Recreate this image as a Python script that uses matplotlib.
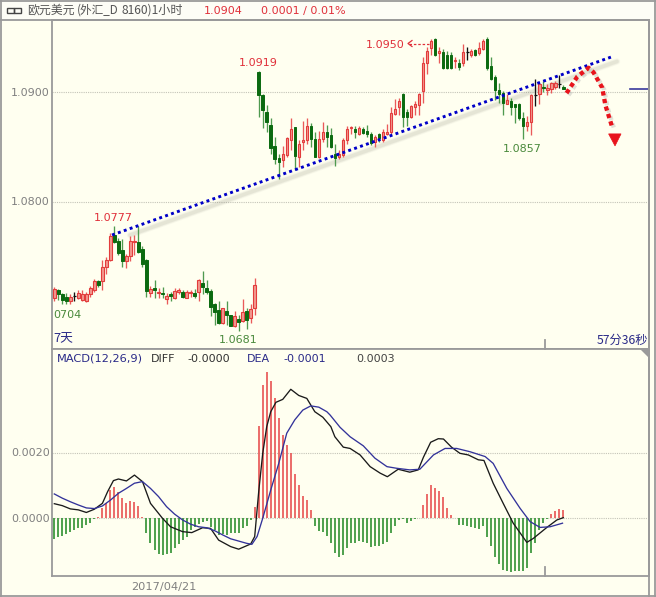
import matplotlib
matplotlib.use("Agg")
import matplotlib.pyplot as plt
import numpy as np
from matplotlib.lines import Line2D
from matplotlib.patches import Polygon, Rectangle
import matplotlib.patheffects as pe

plt.rcParams['font.family'] = ['DejaVu Sans', 'Noto Sans CJK SC']

# candle data, prices in units of 0.0001
falling_candles = {1,2,3,11,15,16,17,21,22,23,25,27,29,32,35,37,38,39,40,41,43,44,46,48,
                   51,52,53,54,55,56,60,64,65,68,69,70,75,77,78,79,81,87,88,95,97,98,99,
                   101,105,108,109,110,111,112,114,115,116,117,122,127}
flat_candles = {5,103,120,126}

body_top = [10721,10720,10716,10714,10714,10715,10717,10716,10716,10722,10728,10728,
            10741,10747,10769,10770,10765,10756,10751,10765,10765,10764,10757,10747,
            10721,10722,10718,10717,10715,10716,10719,10720,10718,10718,10718,10717,
            10729,10726,10722,10719,10707,10702,10704,10701,10697,10696,10694,10700,
            10701,10703,10725,
            10918,10897,10882,10870,10851,10840,10844,10858,10866,10868,10853,10856,
            10869,10869,10857,10857,10864,10864,10861,10844,10844,10856,10866,10868,
            10866,10867,10866,10865,10862,10859,10862,10864,10864,10881,10885,10892,
            10898,10882,10887,10889,10898,10926,10937,10946,10948,10937,10936,10934,
            10934,10929,10926,10936,10936,10937,10938,10940,10946,10948,10924,10914,
            10902,10899,10893,10892,10889,10889,10876,10873,10897,10897,10907,10905,
            10904,10908,10908,10907,10905]
body_bottom = [10713,10716,10711,10710,10710,10715,10713,10711,10710,10716,10720,10725,
               10728,10741,10747,10764,10754,10746,10746,10751,10764,10755,10744,10719,
               10717,10720,10717,10716,10712,10715,10713,10718,10714,10713,10717,10715,
               10718,10723,10718,10705,10700,10690,10690,10697,10687,10687,10691,10692,
               10693,10695,10704,
               10897,10884,10873,10849,10839,10836,10838,10843,10856,10842,10841,10855,
               10856,10857,10841,10841,10857,10859,10850,10840,10841,10843,10856,10867,
               10864,10862,10863,10862,10854,10855,10858,10856,10862,10864,10880,10886,
               10877,10877,10877,10886,10888,10901,10926,10940,10934,10935,10922,10922,
               10922,10928,10923,10926,10936,10934,10934,10935,10939,10922,10912,10902,
               10898,10890,10889,10886,10886,10876,10869,10869,10873,10897,10898,10904,
               10902,10903,10905,10907,10903]
candle_high = [10723,10721,10717,10717,10716,10718,10720,10720,10718,10724,10730,10729,
               10747,10750,10772,10778,10767,10766,10753,10769,10770,10778,10760,10748,
               10724,10729,10722,10723,10717,10718,10722,10722,10720,10720,10720,10721,
               10730,10737,10729,10721,10708,10710,10704,10710,10697,10701,10697,10712,
               10704,10707,10731,
               10919,10898,10888,10876,10859,10844,10851,10859,10876,10868,10856,10874,
               10876,10872,10864,10865,10873,10870,10867,10853,10847,10858,10869,10869,
               10869,10869,10868,10870,10864,10861,10863,10866,10871,10886,10894,10895,
               10899,10885,10888,10892,10899,10932,10941,10948,10949,10941,10939,10937,
               10936,10932,10930,10944,10941,10939,10939,10945,10948,10950,10932,10915,
               10908,10901,10898,10895,10889,10890,10882,10878,10898,10912,10908,10910,
               10907,10909,10910,10915,10906]
candle_low = [10710,10711,10707,10707,10707,10710,10712,10710,10709,10714,10718,10723,
              10720,10735,10746,10763,10752,10741,10740,10746,10752,10754,10741,10714,
              10714,10713,10713,10713,10707,10710,10712,10716,10713,10713,10714,10713,
              10710,10716,10716,10696,10688,10689,10689,10688,10687,10686,10683,10691,
              10685,10690,10697,
              10877,10867,10864,10844,10835,10821,10832,10841,10847,10829,10832,10847,
              10853,10850,10841,10840,10855,10850,10849,10833,10839,10841,10853,10862,
              10858,10861,10862,10859,10852,10850,10855,10855,10861,10862,10879,10879,
              10868,10869,10876,10879,10879,10890,10916,10934,10933,10926,10921,10921,
              10921,10922,10920,10924,10929,10932,10933,10934,10938,10920,10911,10893,
              10890,10879,10889,10879,10872,10875,10857,10865,10861,10887,10889,10900,
              10897,10899,10903,10904,10903]

# MACD histogram, units of 0.0001
macd_hist = [-6.3,-5.6,-5.3,-4.9,-4.1,-3.6,-3.1,-3.1,-2.1,-1.3,-0.1,0.5,3.1,4.6,8.7,9.7,
             8.2,6.2,4.8,5.3,5.1,3.9,0.5,-4.4,-7.7,-9.7,-11.0,-11.2,-11.1,-10.6,-9.2,-7.9,
             -6.7,-5.6,-3.6,-2.6,-1.8,-1.0,-0.8,-2.6,-3.6,-5.1,-4.9,-5.1,-4.6,-4.4,-4.6,-3.1,
             -2.4,-0.5,3.6,28.4,41.0,45.1,42.4,36.9,30.8,25.6,22.6,20.2,13.5,10.1,7.0,5.6,
             2.6,-2.4,-3.8,-4.1,-5.3,-7.7,-10.8,-11.8,-11.3,-9.2,-7.7,-7.5,-7.0,-7.2,-7.5,
             -8.7,-8.5,-8.4,-7.9,-7.2,-4.6,-2.4,-0.5,-0.3,-1.5,-0.8,-0.3,0.2,4.1,7.5,10.3,
             9.2,8.5,6.7,3.1,1.0,0.2,-2.1,-2.1,-2.4,-2.8,-3.1,-3.3,-2.4,-5.6,-8.5,-11.8,
             -14.1,-15.9,-16.1,-16.4,-16.1,-16.1,-16.1,-15.4,-10.8,-7.5,-3.6,-1.5,-0.1,1.2,
             2.3,2.9,2.6]

diff_index = [0,2,4,6,8,10,12,13.3,14.75,16,18,20,22,24,27,29,32,34.3,37,39,41,44,46,49,50,
              51,52,53,54,55.3,57,59,61,63,65,67,69,70,72.1,73.8,76.3,78.8,81.3,83.1,85.8,
              88.7,90.8,92.1,93.9,95.8,97.1,99.1,101.2,103.3,105.8,107.2,109.5,112,114.5,
              117.9,119.5,122.9,125.4,127]
diff_values = [4.5,3.9,2.9,2.6,1.8,2.8,4.6,8.2,11.6,12.1,11.5,13.3,11.3,4.6,0,-2.6,-4.1,-4.4,
               -2.9,-3.1,-6.7,-8.7,-9.5,-7.9,-5.6,8.2,20.0,28.2,32.8,35.7,36.6,39.7,37.8,
               36.9,32.8,31.1,28.2,25.1,21.9,21.5,19.5,15.9,13.9,12.8,15.1,14.2,14.9,18.8,
               23.4,24.5,24.4,21.9,20.0,19.5,18.0,17.8,10.8,4.6,-1.5,-7.4,-6.2,-2.8,-0.5,0.2]
dea_index = [0,2,4,6,8,10,12,14,16,18,20,22,24,26,28,30,32,34,36,38,40,42,44,46,48,49.3,50.6,
             52,54,56,58,60,62,64,66,68,68.8,71.3,73.8,77.1,80,83,85.4,88.7,91.2,94.6,97.5,
             100.4,103.7,107.5,109.5,112.9,116.2,118.7,121.2,123.7,126.8]
dea_values = [7.5,6.2,5.1,4.1,3.2,3.0,3.8,5.6,7.7,9.2,10.8,11.3,9.2,6.7,3.6,1.3,-0.5,-1.8,-2.6,
              -2.9,-3.8,-5.1,-6.3,-7.0,-7.7,-8.0,-5.6,0,8.7,16.9,26.2,30.3,33.3,34.6,34.2,
              32.8,31.8,28.0,25.1,22.3,18.5,15.9,15.4,14.9,15.1,19.5,21.5,21.5,20.5,19.0,
              16.9,9.2,3.1,-1.0,-2.8,-2.6,-1.5]

# drawn annotations on the chart (bar index, price)
trend_index = [14.4, 139.1]
trend_price = [10770, 10932]
forecast_index = [127.8, 130.5, 133.3, 134.5, 136.7, 137.5, 139.2]
forecast_price = [10899, 10914, 10922, 10918, 10904, 10888, 10868]
forecast_tip = [139.9, 10851]
last_price = 10903

W, H = 656, 597
fig = plt.figure(figsize=(W/100, H/100), dpi=100, facecolor='#FFFFF0')

def rect(x0, y0, x1, y1):
    return [x0/W, 1-y1/H, (x1-x0)/W, (y1-y0)/H]

BG = '#FFFFF0'
ax = fig.add_axes(rect(52, 19.5, 649, 349), facecolor=BG)
am = fig.add_axes(rect(52, 349, 649, 576), facecolor=BG)
xlim = ((52-54.3)/4.008, (649-54.3)/4.008)
ax.set_xlim(*xlim); am.set_xlim(*xlim)
ax.set_ylim(10666.4/1e4, 10965.9/1e4)
am.set_ylim(-17.75e-4, 52.1e-4)
for a in (ax, am):
    a.set_xticks([]); a.set_yticks([])
    for s in a.spines.values():
        s.set_color('#9a9a9a'); s.set_linewidth(1.3)

n = len(body_top)
idx = np.arange(n)
top = np.array(body_top)/1e4; bot = np.array(body_bottom)/1e4
hi = np.array(candle_high)/1e4; lo = np.array(candle_low)/1e4
down = np.array([i in falling_candles for i in range(n)])
flat = np.array([i in flat_candles for i in range(n)])
up = ~down & ~flat

# grid
for a, lv in ((ax, 1.09), (ax, 1.08), (am, 0.002), (am, 0.0)):
    a.axhline(lv, color='#c4c4b8', lw=0.8, ls=(0, (1, 1)), zorder=1)

# trend shadow
tx = np.array(trend_index); ty = np.array(trend_price)/1e4
slope = (ty[1]-ty[0])/(tx[1]-tx[0])
dy = -6.5*0.0000909
for lw, al in ((6.5, .05), (5, .08), (3.5, .11)):
    ax.plot([tx[0]+4.5, tx[1]+1.3], [ty[0]+4.5*slope+dy, ty[1]+1.3*slope+dy],
            color='#8c8c7c', lw=lw*.72, alpha=al, solid_capstyle='round', zorder=1.5)

# candles
ax.vlines(idx[up], lo[up], hi[up], color='#ea5a5a', lw=0.95, zorder=2)
ax.vlines(idx[down], lo[down], hi[down], color='#4f9a4f', lw=0.95, zorder=2)
ax.vlines(idx[flat], lo[flat], hi[flat], color='#111111', lw=0.95, zorder=2)
ax.bar(idx[up], (top-bot)[up], bottom=bot[up], width=0.62, color='#f29a90',
       edgecolor='#e23c3c', linewidth=0.8, zorder=3)
ax.bar(idx[down], (top-bot)[down], bottom=bot[down], width=0.62, color='#0b6a10',
       edgecolor='#0b6a10', linewidth=0.7, zorder=3)
ax.hlines(top[flat], idx[flat]-.4, idx[flat]+.4, color='#111111', lw=0.9, zorder=3)

# last price level
ax.plot([(630-54.3)/4.008, xlim[1]], [last_price/1e4]*2, color='#3a3a9c', lw=1.2, zorder=2)

# trend line
ax.plot(tx, ty, color='#0000c8', lw=2.1, ls=(0, (1, 1.15)), zorder=5)

# forecast arrow
fx = np.array(forecast_index); fy = np.array(forecast_price)/1e4
ax.plot(fx, fy, color='#e8141c', lw=3.1, ls=(0, (1, 0.8)), zorder=5,
        path_effects=[pe.SimpleLineShadow(offset=(1.5, -1.5), shadow_color='#aaaaaa', alpha=.35),
                      pe.Normal()])
tipx, tipy = forecast_tip[0], forecast_tip[1]/1e4
ax.add_patch(Polygon([(tipx-1.6, tipy+12*0.000091), (tipx+1.5, tipy+12*0.000091), (tipx, tipy)],
                     closed=True, fc='#e8141c', ec='#e8141c', lw=0.5, zorder=6))

# MACD
hist = np.array(macd_hist)*1e-4
am.vlines(idx[hist >= 0], 0, hist[hist >= 0], color='#e9605e', lw=1.3, zorder=2)
am.vlines(idx[hist < 0], 0, hist[hist < 0], color='#3f983f', lw=1.3, zorder=2)
am.plot(diff_index, np.array(diff_values)*1e-4, color='#1a1a1a', lw=0.95, zorder=4)
am.plot(dea_index, np.array(dea_values)*1e-4, color='#33339a', lw=0.95, zorder=5)

# chrome
def line(x0, y0, x1, y1, c='#9a9a9a', lw=1.3):
    fig.add_artist(Line2D([x0/W, x1/W], [1-y0/H, 1-y1/H], color=c, lw=lw))

fig.add_artist(Rectangle((0, 1-19.5/H), 1, 19.5/H, transform=fig.transFigure, fc='#FDFDF6', ec='none', zorder=-1))
line(1, 1, 1, 596); line(0, 1, 656, 1); line(0, 596, 656, 596); line(655, 1, 655, 596)
line(0, 19.5, 649, 19.5); line(649, 19.5, 649, 596)
line(545.3, 340, 545.3, 349); line(545.3, 567, 545.3, 576)
fig.add_artist(Polygon([(640/W, 1-349/H), (649/W, 1-349/H), (649/W, 1-358/H)], closed=True,
                       transform=fig.transFigure, fc='#9a9a9a', ec='none'))
# link icon
for x0 in (6.5, 14):
    fig.add_artist(Rectangle((x0/W, 1-12.5/H), 7/W, 4.5/H, transform=fig.transFigure,
                             fc='none', ec='#444444', lw=1))

CJK = ['Noto Sans CJK SC', 'DejaVu Sans']
def t(x, y, s, c, size=8.0, ha='left', **kw):
    fig.text(x/W, 1-y/H, s, color=c, fontsize=size, ha=ha, va='center', **kw)

GREY = '#808080'; RED = '#e0303a'; GREEN = '#4a8a3c'; NAVY = '#2a2a88'
t(27, 10.5, '欧元美元', '#555555', 8.6, family=CJK)
t(77, 10.5, '(外汇_D', '#555555', 8.4, family=CJK)
t(122, 10.5, '8160)1小时', '#555555', 8.7, family=CJK)
t(204, 11, '1.0904', RED); t(261, 11, '0.0001 / 0.01%', RED)
t(50, 92.5, '1.0900', GREY, ha='right'); t(50, 202, '1.0800', GREY, ha='right')
t(50, 453, '0.0020', GREY, ha='right'); t(50, 518.5, '0.0000', GREY, ha='right')
t(239, 62.5, '1.0919', RED); t(366, 45, '1.0950', RED)
t(94, 218, '1.0777', RED); t(503, 149, '1.0857', GREEN)
t(219, 340, '1.0681', GREEN); t(53, 315, '0704', GREEN)
t(53, 339, '7天', NAVY, 9.2, family=CJK)
t(648, 340, '57分36秒', NAVY, 8.8, ha='right', family=CJK)
t(57, 358.5, 'MACD(12,26,9)', NAVY, 8.2); t(151, 358.5, 'DIFF', '#333333')
t(187, 358.5, '-0.0000', '#333333'); t(247, 358.5, 'DEA', NAVY)
t(283, 358.5, '-0.0001', NAVY); t(356, 358.5, '0.0003', '#444444')
t(131, 587, '2017/04/21', GREY, 8.2)
# dashed arrow beside the 1.0950 label
fig.add_artist(Line2D([409/W, 430/W], [1-43.5/H]*2, color=RED, lw=0.9, ls=(0, (2, 1.5))))
fig.add_artist(Line2D([412/W, 408/W, 412/W], [1-40.5/H, 1-43.5/H, 1-46.5/H], color=RED, lw=0.9))

fig.savefig('out.png', dpi=100, facecolor=fig.get_facecolor())
